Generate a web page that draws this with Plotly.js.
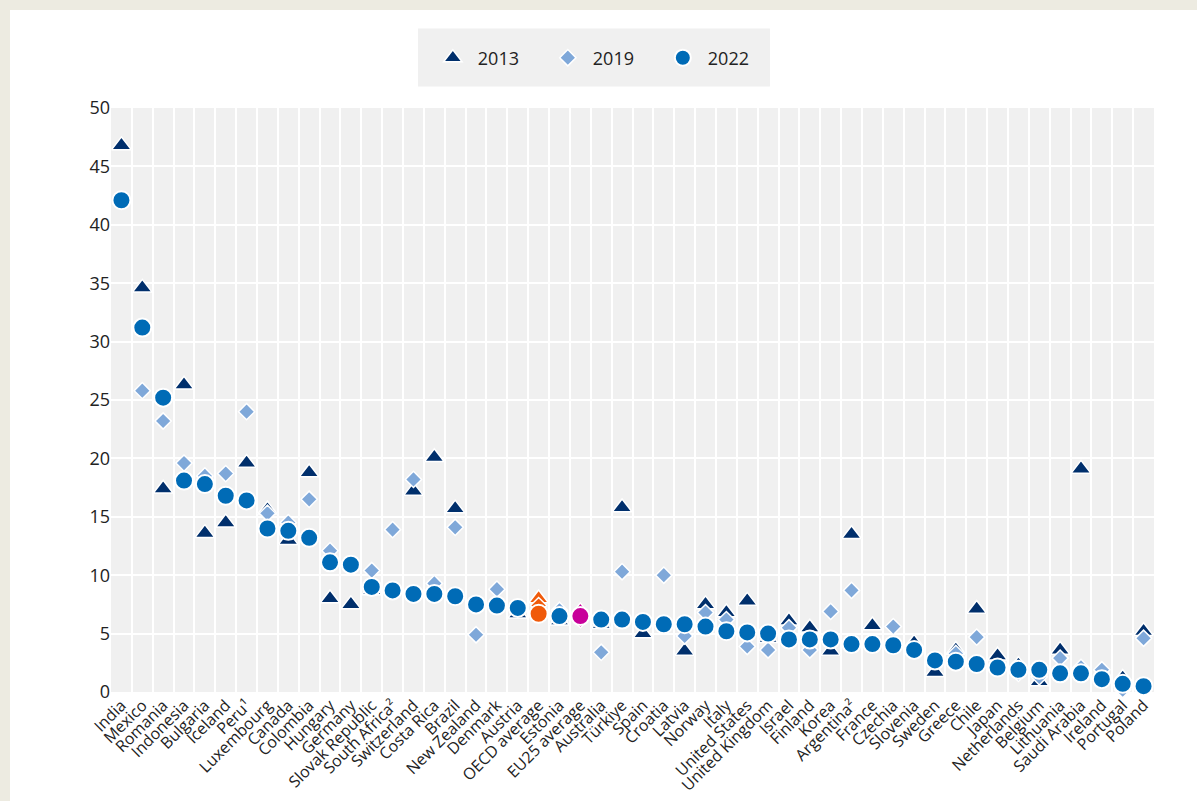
<!DOCTYPE html>
<html><head><meta charset="utf-8">
<script src="https://cdn.plot.ly/plotly-3.0.1.min.js"></script>
<style>
html,body{margin:0;padding:0;background:#EDEBE1;width:1197px;height:801px;overflow:hidden}
#chart{position:absolute;left:10px;top:10px;width:1187px;height:791px;background:#fff}
</style></head><body><div id="chart"></div>
<script>
const categories = ["India","Mexico","Romania","Indonesia","Bulgaria","Iceland","Peru\u00b9","Luxembourg","Canada","Colombia","Hungary","Germany","Slovak Republic","South Africa\u00b2","Switzerland","Costa Rica","Brazil","New Zealand","Denmark","Austria","OECD average","Estonia","EU25 average","Australia","Türkiye","Spain","Croatia","Latvia","Norway","Italy","United States","United Kingdom","Israel","Finland","Korea","Argentina\u00b2","France","Czechia","Slovenia","Sweden","Greece","Chile","Japan","Netherlands","Belgium","Lithuania","Saudi Arabia","Ireland","Portugal","Poland"];
const values2013 = [46.8,34.6,17.4,26.3,13.6,14.5,19.6,15.6,13.0,18.8,8.0,7.5,8.7,null,17.2,20.1,15.7,null,null,6.7,8.0,6.1,6.9,5.8,15.8,5.0,null,3.5,7.5,6.8,7.8,4.6,6.1,5.5,3.5,13.5,5.7,null,4.2,1.7,3.6,7.1,3.1,2.3,0.9,3.6,19.1,null,1.2,5.2];
const values2019 = [null,25.8,23.2,19.6,18.5,18.7,24.0,15.3,14.5,16.5,12.1,null,10.4,13.9,18.2,9.3,14.1,4.9,8.8,null,7.4,7.0,6.2,3.4,10.3,null,10.0,4.8,6.8,6.2,3.9,3.6,5.5,3.6,6.9,8.7,null,5.6,null,null,3.3,4.7,null,1.6,1.3,2.9,2.1,1.9,0.2,4.6];
const values2022 = [42.1,31.2,25.2,18.1,17.8,16.8,16.4,14.0,13.8,13.2,11.1,10.9,9.0,8.7,8.4,8.4,8.2,7.5,7.4,7.2,6.7,6.5,6.5,6.2,6.2,6.0,5.8,5.8,5.6,5.2,5.1,5.0,4.5,4.5,4.5,4.1,4.1,4.0,3.6,2.7,2.6,2.4,2.1,1.9,1.9,1.6,1.6,1.1,0.7,0.5];
const seriesNames = ["2013","2019","2022"];
const yTicks = [0,5,10,15,20,25,30,35,40,45,50];

const highlight = {"OECD average":"#F05A0A","EU25 average":"#C8009A"};
function colours(base){return categories.map(c => highlight[c] || base);}
const font = "'Open Sans', 'Noto Sans', sans-serif";

const traces = [
  {name:seriesNames[0], x:categories, y:values2013, type:"scatter", mode:"markers", cliponaxis:false,
   marker:{symbol:"triangle-up", size:17, color:colours("#002F6C"), line:{color:"#fff", width:1.5}}},
  {name:seriesNames[1], x:categories, y:values2019, type:"scatter", mode:"markers", cliponaxis:false,
   marker:{symbol:"diamond", size:12.5, color:colours("#7FA8D9"), line:{color:"#fff", width:1.5}}},
  {name:seriesNames[2], x:categories, y:values2022, type:"scatter", mode:"markers", cliponaxis:false,
   marker:{symbol:"circle", size:18, color:colours("#006BB6"), line:{color:"#fff", width:2}}}
];

const layout = {
  width:1187, height:791,
  paper_bgcolor:"#ffffff", plot_bgcolor:"#F0F0F0",
  margin:{l:101, r:43, t:98, b:109},
  font:{family:font, color:"#222"},
  showlegend:true,
  legend:{orientation:"h", xref:"container", yref:"container", x:0.352, xanchor:"left", y:0.9393, yanchor:"middle",
          bgcolor:"rgba(0,0,0,0)", font:{size:18, color:"#222"}, entrywidth:60, itemwidth:40},
  shapes:[{type:"rect", xref:"paper", yref:"paper", x0:0.2943, x1:0.6318, y0:1.0368, y1:1.1362,
           fillcolor:"#F0F0F0", line:{width:0}, layer:"below"}],
  xaxis:{type:"category", range:[-0.5,49.5], tickson:"boundaries", showgrid:true, gridcolor:"#fff", gridwidth:2,
         ticks:"", tickangle:-45, tickfont:{size:16, color:"#222"}, zeroline:false, showline:false, fixedrange:true},
  yaxis:{range:[0,50], tickvals:yTicks, ticktext:yTicks.map(String), showgrid:true, gridcolor:"#fff", gridwidth:2,
         ticks:"", tickfont:{size:18, color:"#222"}, zeroline:false, showline:false, fixedrange:true}
};
Plotly.newPlot("chart", traces, layout, {displayModeBar:false, staticPlot:true});
</script></body></html>
